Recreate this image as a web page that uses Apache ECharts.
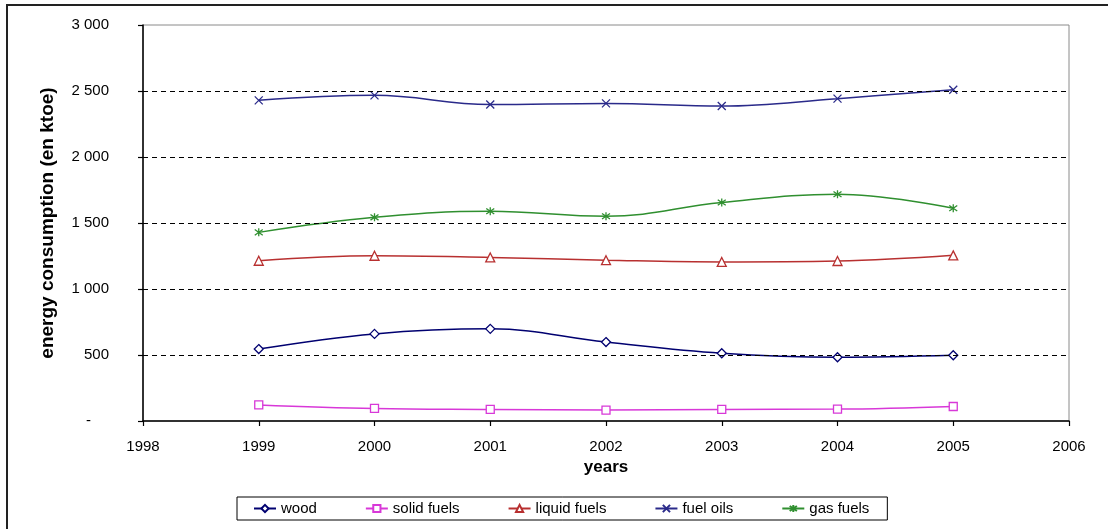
<!DOCTYPE html>
<html>
<head>
<meta charset="utf-8">
<script src="https://cdn.jsdelivr.net/npm/echarts@6/dist/echarts.min.js"></script>
<style>
html,body{margin:0;padding:0;background:#fff;}
#c{width:1108px;height:529px;}
</style>
</head>
<body>
<div id="c"></div>
<script>
var years = [1999, 2000, 2001, 2002, 2003, 2004, 2005];
var wood = [545, 660, 698, 598, 513, 483, 498];
var solidFuels = [122, 95, 88, 83, 88, 90, 110];
var liquidFuels = [1214, 1252, 1239, 1218, 1205, 1212, 1255];
var fuelOils = [2429, 2467, 2398, 2406, 2386, 2442, 2510];
var gasFuels = [1429, 1543, 1589, 1551, 1655, 1718, 1612];
var gridValues = [500, 1000, 1500, 2000, 2500];
var yTicks = [0, 500, 1000, 1500, 2000, 2500, 3000];

function pairs(vals) { return years.map(function (y, i) { return [y, vals[i]]; }); }

var X_PATH = 'path://M0,0L10,10M10,0L0,10';
var STAR_PATH = 'path://M5,0L5,10M0,1.5L10,8.5M10,1.5L0,8.5';

function mk(name, vals, color, symbol, size, hollowFill) {
  return {
    name: name,
    type: 'line',
    data: pairs(vals),
    smooth: 0.4,
    symbol: symbol,
    symbolSize: size,
    symbolKeepAspect: true,
    showAllSymbol: true,
    lineStyle: { color: color, width: 1.5 },
    itemStyle: { color: hollowFill, borderColor: color, borderWidth: 1.3 },
    emphasis: { disabled: true },
    z: 3
  };
}

var chart = echarts.init(document.getElementById('c'), null, { renderer: 'canvas' });
var series = [
  mk('wood', wood, '#000070', 'diamond', 9, '#ffffff'),
  mk('solid fuels', solidFuels, '#d838d8', 'rect', 8, '#ffffff'),
  mk('liquid fuels', liquidFuels, '#b83030', 'triangle', 9, '#ffffff'),
  mk('fuel oils', fuelOils, '#2a2a8a', X_PATH, 8, 'rgba(0,0,0,0)'),
  mk('gas fuels', gasFuels, '#2f8f2f', STAR_PATH, 8, 'rgba(0,0,0,0)'),
  {
    name: 'grid',
    type: 'line',
    data: [],
    silent: true,
    markLine: {
      silent: true,
      symbol: ['none', 'none'],
      label: { show: false },
      lineStyle: { color: '#000', type: [5, 4], width: 1.2 },
      data: gridValues.map(function (v) { return { yAxis: v }; })
    },
    z: 1
  }
];

chart.setOption({
  animation: false,
  backgroundColor: '#fff',
  textStyle: { fontFamily: 'Liberation Sans, Arial, sans-serif' },
  graphic: [{
    type: 'rect',
    shape: { x: 7, y: 5, width: 1200, height: 600 },
    style: { fill: 'none', stroke: '#222', lineWidth: 2 },
    silent: true, z: -10
  }],
  grid: {
    left: 143, right: 39, top: 25, bottom: 108,
    show: true, borderColor: '#8a8a8a', borderWidth: 1, backgroundColor: '#fff'
  },
  legend: {
    data: ['wood', 'solid fuels', 'liquid fuels', 'fuel oils', 'gas fuels'],
    left: 237, top: 497,
    itemWidth: 22, itemHeight: 9, itemGap: 48,
    padding: [4, 18, 4, 16],
    borderColor: '#000', borderWidth: 1, backgroundColor: '#fff',
    textStyle: { fontSize: 15, color: '#000', fontFamily: 'Liberation Sans, Arial, sans-serif' },
    selectedMode: false
  },
  xAxis: {
    type: 'value', min: 1998, max: 2006, interval: 1,
    name: 'years', nameLocation: 'middle', nameGap: 34,
    nameTextStyle: { fontSize: 17, fontWeight: 'bold', color: '#000' },
    axisLine: { show: true, onZero: false, lineStyle: { color: '#000', width: 1.5 } },
    axisTick: { show: true, length: 5, lineStyle: { color: '#000', width: 1.2 } },
    axisLabel: { fontSize: 15, color: '#000', margin: 18, formatter: function (v) { return String(v); } },
    splitLine: { show: false }
  },
  yAxis: {
    type: 'value', min: 0, max: 3000, interval: 500,
    name: 'energy consumption (en ktoe)', nameLocation: 'middle', nameGap: 86,
    nameTextStyle: { fontSize: 19, fontWeight: 'bold', color: '#000' },
    axisLine: { show: true, lineStyle: { color: '#000', width: 1.5 } },
    axisTick: { show: true, length: 5, lineStyle: { color: '#000', width: 1.2 } },
    axisLabel: {
      fontSize: 15, color: '#000', margin: 34,
      formatter: function (v) {
        if (v === 0) return '{d|-}';
        return String(v).replace(/\B(?=(\d{3})+(?!\d))/g, ' ');
      },
      rich: { d: { fontSize: 15, color: '#000', padding: [0, 18, 0, 0] } }
    },
    splitLine: { show: false }
  },
  series: series
});
</script>
</body>
</html>
